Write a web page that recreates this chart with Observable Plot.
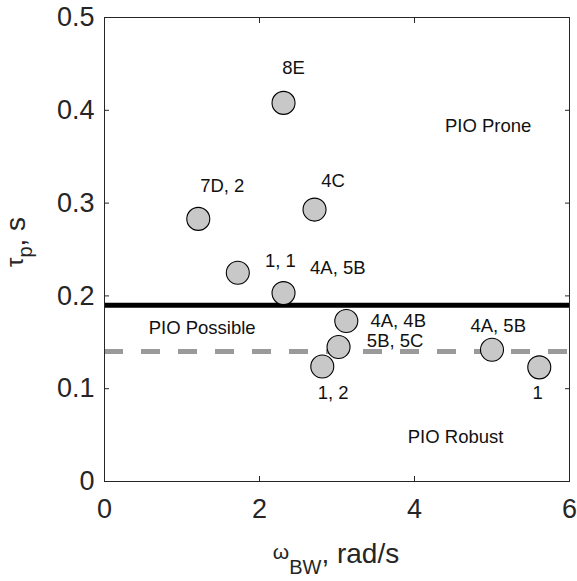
<!DOCTYPE html>
<html>
<head>
<meta charset="utf-8">
<script src="https://cdn.jsdelivr.net/npm/d3@7"></script>
<script src="https://cdn.jsdelivr.net/npm/@observablehq/plot@0.6"></script>
<style>
  body { margin: 0; background: #fff; }
  svg { display: block; }
</style>
</head>
<body>
<div id="chart"></div>
<script>
// --- data ---
const omegaBW = [2.31, 1.21, 1.72, 2.31, 2.71, 3.12, 3.02, 2.81, 5.00, 5.61];
const tauP    = [0.408, 0.283, 0.225, 0.203, 0.293, 0.173, 0.145, 0.124, 0.142, 0.123];

const labelText = ["8E", "7D, 2", "1, 1", "4A, 5B", "4C", "4A, 4B", "5B, 5C", "1, 2", "4A, 5B", "1"];
const labelX    = [2.44, 1.52, 2.27, 3.01, 2.95, 3.79, 3.75, 2.95, 5.08, 5.59];
const labelY    = [0.445, 0.318, 0.237, 0.230, 0.324, 0.173, 0.151, 0.095, 0.167, 0.095];

const regionText = ["PIO Prone", "PIO Possible", "PIO Robust"];
const regionX    = [4.95, 1.26, 4.53];
const regionY    = [0.383, 0.165, 0.048];

const boundaryProne  = [0.19];
const boundaryRobust = [0.14];

const xTicks = [0, 2, 4, 6];
const yTicks = [0, 0.1, 0.2, 0.3, 0.4, 0.5];

const points  = omegaBW.map((x, i) => ({x, y: tauP[i]}));
const labels  = labelText.map((t, i) => ({t, x: labelX[i], y: labelY[i]}));
const regions = regionText.map((t, i) => ({t, x: regionX[i], y: regionY[i]}));

const axisColor = "#262626";
const font = "Arial, 'Liberation Sans', Helvetica, sans-serif";

const plot = Plot.plot({
  width: 577,
  height: 581,
  marginLeft: 104,
  marginRight: 8,
  marginTop: 17,
  marginBottom: 100,
  style: {fontFamily: font, color: axisColor, background: "#fff"},
  x: {domain: [0, 6]},
  y: {domain: [0, 0.5]},
  marks: [
    Plot.ruleY(boundaryRobust, {stroke: "#9a9a9a", strokeWidth: 5, strokeDasharray: "19,18"}),
    Plot.ruleY(boundaryProne, {stroke: "#000", strokeWidth: 5}),
    Plot.dot(points, {x: "x", y: "y", r: 11.5, fill: "#c8c8c8", stroke: "#000", strokeWidth: 1.1}),
    Plot.text(labels, {x: "x", y: "y", text: "t", fontSize: 18.5, fill: "#111"}),
    Plot.text(regions, {x: "x", y: "y", text: "t", fontSize: 18.5, fill: "#111"}),
    Plot.frame({stroke: axisColor, strokeWidth: 1}),
    Plot.axisX({anchor: "bottom", ticks: xTicks, tickSize: 0, tickPadding: 17, fontSize: 27, tickFormat: d3.format("~g"), label: null, fill: axisColor}),
    Plot.axisX({anchor: "bottom", ticks: xTicks, tickSize: -5, text: null, label: null, stroke: axisColor}),
    Plot.axisX({anchor: "top", ticks: xTicks, tickSize: -5, text: null, label: null, stroke: axisColor}),
    Plot.axisY({anchor: "left", ticks: yTicks, tickSize: 0, tickPadding: 10, fontSize: 27, tickFormat: d3.format("~g"), label: null, fill: axisColor}),
    Plot.axisY({anchor: "left", ticks: yTicks, tickSize: -5, text: null, label: null, stroke: axisColor}),
    Plot.axisY({anchor: "right", ticks: yTicks, tickSize: -5, text: null, label: null, stroke: axisColor})
  ]
});

document.getElementById("chart").appendChild(plot);

// axis titles with subscripts
const svg = d3.select(plot);
const xl = svg.append("text")
  .attr("x", 336).attr("y", 563)
  .attr("text-anchor", "middle")
  .attr("fill", axisColor)
  .style("font-family", font)
  .style("font-size", "28px");
xl.append("tspan").text("ω").style("font-size", "21px").attr("dy", -4);
xl.append("tspan").text("BW").style("font-size", "20px").attr("dy", 15);
xl.append("tspan").text(", rad/s").attr("dy", -11);

const yl = svg.append("text")
  .attr("transform", "translate(25,242) rotate(-90)")
  .attr("text-anchor", "middle")
  .attr("fill", axisColor)
  .style("font-family", font)
  .style("font-size", "28px");
yl.append("tspan").text("τ").style("font-size", "24px").attr("dy", -2);
yl.append("tspan").text("p").style("font-size", "20px").attr("dy", 9);
yl.append("tspan").text(", s").attr("dy", -7);
</script>
</body>
</html>
